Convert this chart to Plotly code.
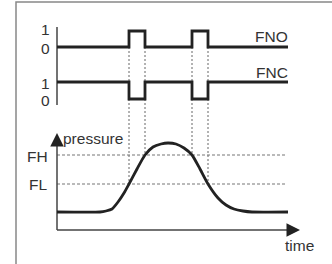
import plotly.graph_objects as go

# ---- data (time in diagram units) ----
t_start, t_end = 57, 288
pulse_start = [129, 192]
pulse_end = [145, 208]

sig_time = [57, 129, 129, 145, 145, 192, 192, 208, 208, 288]
fno_level = [0, 0, 1, 1, 0, 0, 1, 1, 0, 0]
fnc_level = [1, 1, 0, 0, 1, 1, 0, 0, 1, 1]

p_time = [57, 100, 106, 112, 118, 124, 129, 137, 145, 153, 161, 168, 176,
          184, 192, 200, 208, 218, 226, 234, 243, 252, 288]
pressure = [18, 18, 19, 21, 28, 37, 46, 61, 75, 83, 86, 87, 86,
            82, 75, 61, 46, 32, 25, 21, 19, 18, 18]
FL, FH = 46, 75
pulse_threshold = [FL, FH, FH, FL]  # threshold crossed at each pulse edge

# ---- lane layout (diagram y units, downwards) ----
FNO_ZERO, FNO_ONE = 47, 31
FNC_ZERO, FNC_ONE = 99, 82
P_ZERO = 230  # pressure axis baseline


def lane(levels, zero, one):
    return [zero + (one - zero) * v for v in levels]


def pres(vals):
    return [P_ZERO - v for v in vals]


INK = "#222222"
AX = "#444444"
GRID = "#777777"
FONT = dict(family="Liberation Sans, Arial, sans-serif", size=15.5, color="#333333")

fig = go.Figure()

# dotted connectors from FNO low level down to threshold
edges = [pulse_start[0], pulse_end[0], pulse_start[1], pulse_end[1]]
for x, th in zip(edges, pulse_threshold):
    fig.add_trace(go.Scatter(x=[x, x], y=[FNO_ZERO, pres([th])[0]], mode="lines",
                             line=dict(color="#666666", width=1, dash="2px,2px"),
                             hoverinfo="skip", showlegend=False))

# FH / FL dashed levels
for th in (FH, FL):
    fig.add_trace(go.Scatter(x=[t_start, t_end - 1], y=pres([th, th]), mode="lines",
                             line=dict(color=GRID, width=1.2, dash="3px,2px"),
                             hoverinfo="skip", showlegend=False))

# signal axis
fig.add_trace(go.Scatter(x=[t_start, t_start], y=[27, 105], mode="lines",
                         line=dict(color=AX, width=1.5), hoverinfo="skip", showlegend=False))

# signals
fig.add_trace(go.Scatter(x=sig_time, y=lane(fno_level, FNO_ZERO, FNO_ONE), mode="lines",
                         line=dict(color=INK, width=2.8), showlegend=False))
fig.add_trace(go.Scatter(x=sig_time, y=lane(fnc_level, FNC_ZERO, FNC_ONE), mode="lines",
                         line=dict(color=INK, width=2.8), showlegend=False))

# axes lines of the pressure diagram
fig.add_trace(go.Scatter(x=[t_start, 291], y=[P_ZERO, P_ZERO], mode="lines",
                         line=dict(color=AX, width=1.5), hoverinfo="skip", showlegend=False))
fig.add_trace(go.Scatter(x=[t_start, t_start], y=[142, P_ZERO], mode="lines",
                         line=dict(color=AX, width=1.5), hoverinfo="skip", showlegend=False))

# pressure curve
fig.add_trace(go.Scatter(x=p_time, y=pres(pressure), mode="lines",
                         line=dict(color=INK, width=2.8, shape="spline", smoothing=0.6),
                         showlegend=False))

ann = []
# arrowheads
ann.append(dict(x=t_start, y=133, ax=t_start, ay=145, xref="x", yref="y", axref="x", ayref="y",
                showarrow=True, arrowhead=2, arrowsize=1.8, arrowwidth=1.5, arrowcolor=INK, text=""))
ann.append(dict(x=300, y=P_ZERO, ax=288, ay=P_ZERO, xref="x", yref="y", axref="x", ayref="y",
                showarrow=True, arrowhead=2, arrowsize=1.8, arrowwidth=1.5, arrowcolor=INK, text=""))


def label(text, x, y, xanchor="center"):
    ann.append(dict(x=x, y=y, text=text, xref="x", yref="y", showarrow=False,
                    xanchor=xanchor, yanchor="middle", font=FONT))


label("1", 45, 29)
label("0", 45, 48)
label("1", 45, 83)
label("0", 45, 100)
label("FNO", 290, 36, "right")
label("FNC", 290, 72, "right")
label("FH", 50, 156, "right")
label("FL", 49, 184, "right")
label("pressure", 61, 138, "left")
label("time", 299, 245)

fig.update_layout(
    width=332, height=264, margin=dict(l=0, r=0, t=0, b=0),
    paper_bgcolor="white", plot_bgcolor="white",
    xaxis=dict(range=[0, 332], visible=False, fixedrange=True),
    yaxis=dict(range=[264, 0], visible=False, fixedrange=True),
    annotations=ann,
    shapes=[dict(type="rect", xref="x", yref="y", x0=16, y0=2, x1=345, y1=275,
                 line=dict(color="#888888", width=1.5))],
)

fig.write_html("out.html", config={"displayModeBar": False},
               post_script="document.body.style.margin='0';document.body.style.overflow='hidden';")
